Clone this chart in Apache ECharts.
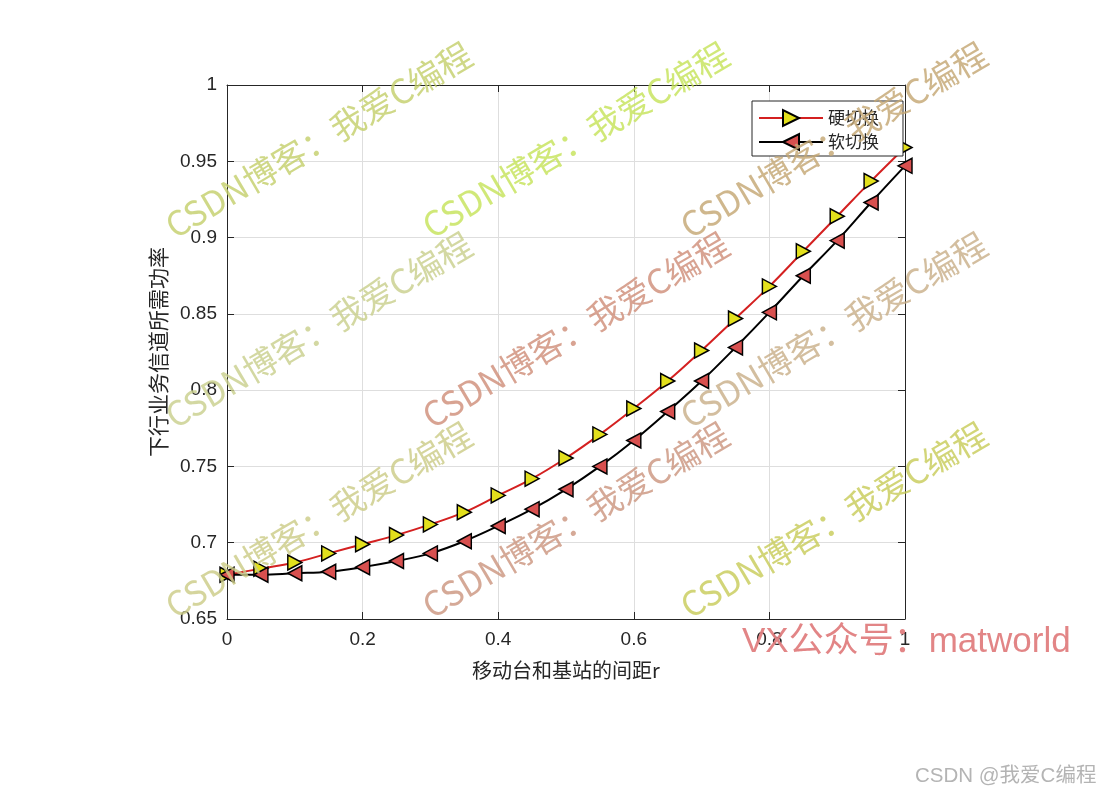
<!DOCTYPE html>
<html>
<head>
<meta charset="utf-8">
<script src="https://cdn.jsdelivr.net/npm/echarts@6/dist/echarts.min.js"></script>
<style>
html,body{margin:0;padding:0;background:#fff;}
#chart{width:1102px;height:793px;}
</style>
</head>
<body>
<div id="chart"></div>
<script>
const xValues = [0, 0.05, 0.1, 0.15, 0.2, 0.25, 0.3, 0.35, 0.4, 0.45, 0.5, 0.55, 0.6, 0.65, 0.7, 0.75, 0.8, 0.85, 0.9, 0.95, 1.0];
const hardHandoff = [0.679, 0.683, 0.687, 0.693, 0.699, 0.705, 0.712, 0.720, 0.731, 0.742, 0.7555, 0.771, 0.788, 0.806, 0.826, 0.847, 0.868, 0.891, 0.914, 0.937, 0.959];
const softHandoff = [0.679, 0.679, 0.680, 0.681, 0.684, 0.688, 0.693, 0.701, 0.711, 0.722, 0.735, 0.750, 0.767, 0.786, 0.806, 0.828, 0.851, 0.875, 0.898, 0.923, 0.947];
const seriesNames = ['硬切换', '软切换'];
const xTitle = '移动台和基站的间距r';
const yTitle = '下行业务信道所需功率';
const xTickLabels = ['0', '0.2', '0.4', '0.6', '0.8', '1'];
const yTickLabels = ['0.65', '0.7', '0.75', '0.8', '0.85', '0.9', '0.95', '1'];
const watermarkText = 'CSDN博客：我爱C编程';

const chart = echarts.init(document.getElementById('chart'), null, {renderer: 'canvas'});

const tickFont = {fontFamily: '"Liberation Sans", Arial, sans-serif', fontSize: 19, color: '#262626'};
const cjkFont = '"Noto Sans CJK SC", "Noto Sans", sans-serif';

function xLabel(v) {
  const idx = Math.round(v / 0.2);
  return xTickLabels[idx] !== undefined ? xTickLabels[idx] : '';
}
function yLabel(v) {
  const idx = Math.round((v - 0.65) / 0.05);
  return yTickLabels[idx] !== undefined ? yTickLabels[idx] : '';
}

const wm = [
  [177, 243, '#c5cf6c'], [434, 243, '#c6e35a'], [692, 243, '#c4a774'],
  [177, 433, '#c9cf8e'], [434, 433, '#cf8f7a'], [692, 433, '#c9b08a'],
  [177, 623, '#cccc88'], [434, 623, '#cc9680'], [692, 623, '#c8cc5a']
];
const graphics = wm.map(w => ({
  type: 'text', x: w[0], y: w[1], rotation: 30.5 * Math.PI / 180, z: 100, silent: true,
  style: {text: watermarkText, fill: w[2], opacity: 0.82, font: '34px ' + cjkFont, textAlign: 'left', textVerticalAlign: 'bottom'}
}));
graphics.push({
  type: 'text', left: 742, top: 625, z: 101, silent: true,
  style: {text: 'VX公众号：matworld', fill: '#e07e80', opacity: 0.95, font: '35px "Liberation Sans", ' + cjkFont}
});
graphics.push({
  type: 'text', left: 915, top: 766, z: 101, silent: true,
  style: {text: 'CSDN @我爱C编程', fill: '#b4b4b4', font: '20.5px "Liberation Sans", ' + cjkFont}
});

const axisLine = {show: true, onZero: false, lineStyle: {color: '#262626', width: 1}};
const axisTick = {show: true, inside: true, length: 7, lineStyle: {color: '#262626', width: 1}};

const option = {
  backgroundColor: '#ffffff',
  animation: false,
  grid: {left: 227, top: 85, width: 678, height: 534, show: false},
  legend: {
    left: 752, top: 101, orient: 'vertical',
    data: seriesNames,
    itemWidth: 64, itemHeight: 20, itemGap: 6,
    padding: [8, 24, 5, 6],
    backgroundColor: '#ffffff', borderColor: '#262626', borderWidth: 1, borderRadius: 0,
    textStyle: {fontFamily: cjkFont, fontSize: 17, color: '#262626'},
    z: 20
  },
  xAxis: [{
    type: 'value', min: 0, max: 1, interval: 0.2, position: 'bottom',
    name: xTitle, nameLocation: 'middle', nameGap: 41,
    nameTextStyle: {fontFamily: cjkFont, fontSize: 20, color: '#262626'},
    axisLine: axisLine, axisTick: axisTick,
    axisLabel: Object.assign({margin: 11, formatter: xLabel}, tickFont),
    splitLine: {show: true, lineStyle: {color: '#dedede', width: 1}}
  }, {
    type: 'value', min: 0, max: 1, interval: 0.2, position: 'top',
    axisLine: axisLine, axisTick: axisTick, axisLabel: {show: false}, splitLine: {show: false}
  }],
  yAxis: [{
    type: 'value', min: 0.65, max: 1, interval: 0.05, position: 'left',
    name: yTitle, nameLocation: 'middle', nameGap: 58, nameRotate: 90,
    nameTextStyle: {fontFamily: cjkFont, fontSize: 21, color: '#262626'},
    axisLine: axisLine, axisTick: axisTick,
    axisLabel: Object.assign({margin: 10, formatter: yLabel}, tickFont),
    splitLine: {show: true, lineStyle: {color: '#dedede', width: 1}}
  }, {
    type: 'value', min: 0.65, max: 1, interval: 0.05, position: 'right',
    axisLine: axisLine, axisTick: axisTick, axisLabel: {show: false}, splitLine: {show: false}
  }],
  series: [{
    name: seriesNames[0], type: 'line', xAxisIndex: 0, yAxisIndex: 0,
    data: xValues.map((x, i) => [x, hardHandoff[i]]),
    smooth: 0.4,
    symbol: 'triangle', symbolRotate: -90, symbolSize: [15, 14], showAllSymbol: true,
    lineStyle: {color: '#d42020', width: 2},
    itemStyle: {color: '#e3e01c', borderColor: '#000000', borderWidth: 1.5},
    z: 3
  }, {
    name: seriesNames[1], type: 'line', xAxisIndex: 0, yAxisIndex: 0,
    data: xValues.map((x, i) => [x, softHandoff[i]]),
    smooth: 0.4,
    symbol: 'triangle', symbolRotate: 90, symbolSize: [15, 14], showAllSymbol: true,
    lineStyle: {color: '#000000', width: 2},
    itemStyle: {color: '#d8504f', borderColor: '#000000', borderWidth: 1.5},
    z: 4
  }],
  graphic: graphics
};
chart.setOption(option);
</script>
</body>
</html>
